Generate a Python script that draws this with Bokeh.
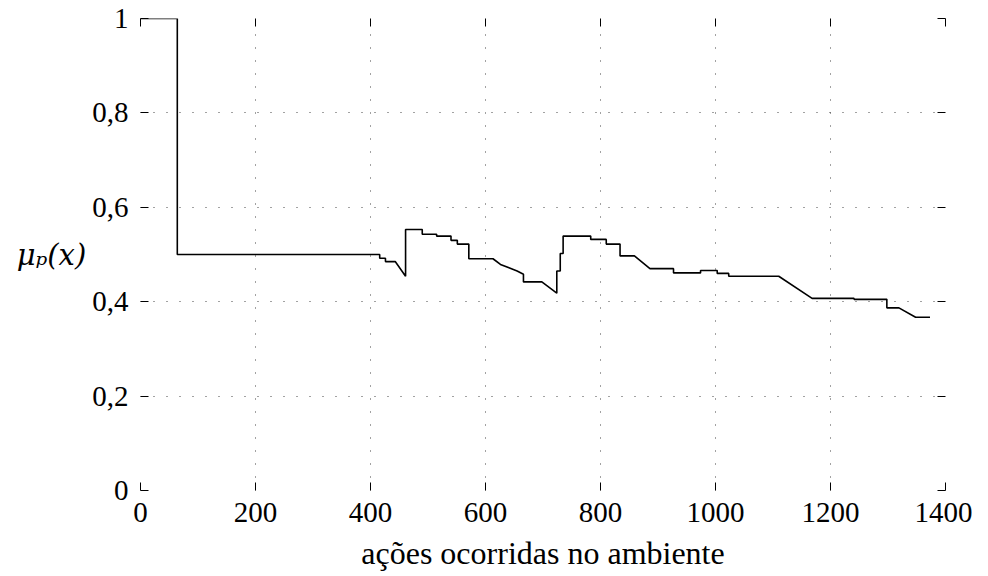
from bokeh.plotting import figure
from bokeh.models import LinearAxis, FixedTicker, Range1d, Grid
from bokeh.embed import file_html
from bokeh.resources import INLINE

# step-like trace
xs = [0, 64, 64, 416, 416, 426, 426, 443, 461, 461, 490, 490, 515, 515, 540, 540,
      551, 551, 571, 571, 613, 626, 655, 666, 666, 698, 724, 724, 730, 730, 735, 735,
      783, 783, 810, 810, 834, 834, 859, 886, 927, 927, 974, 974, 1003, 1003, 1023,
      1023, 1110, 1168, 1241, 1241, 1298, 1298, 1319, 1348, 1373]
ys = [1.0, 1.0, 0.5, 0.5, 0.492, 0.492, 0.485, 0.485, 0.454, 0.553, 0.553, 0.543,
      0.543, 0.539, 0.539, 0.530, 0.530, 0.522, 0.522, 0.491, 0.491, 0.479, 0.465,
      0.458, 0.442, 0.442, 0.418, 0.465, 0.465, 0.502, 0.502, 0.539, 0.539, 0.532,
      0.532, 0.522, 0.522, 0.497, 0.497, 0.470, 0.470, 0.461, 0.461, 0.466, 0.466,
      0.460, 0.460, 0.454, 0.454, 0.407, 0.407, 0.405, 0.405, 0.387, 0.387, 0.367,
      0.367]

x_ticks = [0, 200, 400, 600, 800, 1000, 1200, 1400]
y_ticks = [0, 0.2, 0.4, 0.6, 0.8, 1.0]
y_tick_labels = ["0", "0,2", "0,4", "0,6", "0,8", "1"]
x_label = "ações ocorridas no ambiente"
y_label = "μₚ(x)"

FONT = "Liberation Serif"
TICK_SIZE = "29px"

p = figure(width=972, height=560, output_backend="svg", toolbar_location=None,
           x_range=Range1d(0, 1400), y_range=Range1d(0, 1),
           x_axis_location=None, y_axis_location=None,
           frame_width=805, frame_height=472,
           min_border_left=140, min_border_top=18, min_border_right=27,
           min_border_bottom=60)
p.outline_line_color = None
p.background_fill_color = "white"
p.border_fill_color = "white"

def make_axis(labels):
    ax = LinearAxis()
    ax.axis_line_color = None
    ax.major_tick_in = 8
    ax.major_tick_out = 0
    ax.minor_tick_line_color = None
    ax.major_tick_line_color = "black"
    ax.major_tick_line_width = 1
    ax.major_label_text_font = FONT
    ax.major_label_text_color = "black"
    if labels:
        ax.major_label_text_font_size = TICK_SIZE
        ax.major_label_standoff = 12
    else:
        ax.major_label_text_font_size = "0px"
        ax.major_label_standoff = 0
        ax.major_label_text_color = None
    return ax

xb = make_axis(True)
xb.ticker = FixedTicker(ticks=x_ticks)
xb.axis_label = x_label
xb.axis_label_text_font = FONT
xb.axis_label_text_font_size = "32px"
xb.axis_label_text_font_style = "normal"
xb.axis_label_text_color = "black"
xb.axis_label_standoff = 10
p.add_layout(xb, "below")

yl = make_axis(True)
yl.ticker = FixedTicker(ticks=y_ticks)
yl.major_label_overrides = {t: s for t, s in zip(y_ticks, y_tick_labels)}
yl.axis_label = y_label
yl.axis_label_orientation = "horizontal"
yl.axis_label_text_font = "DejaVu Serif"
yl.axis_label_text_font_size = "29px"
yl.axis_label_text_font_style = "italic"
yl.axis_label_text_color = "black"
yl.axis_label_standoff = 3
p.add_layout(yl, "left")

xa = make_axis(False)
xa.ticker = FixedTicker(ticks=x_ticks)
p.add_layout(xa, "above")

yr = make_axis(False)
yr.ticker = FixedTicker(ticks=y_ticks)
p.add_layout(yr, "right")

p.xgrid.visible = False
p.ygrid.visible = False
gx = Grid(dimension=0, ticker=FixedTicker(ticks=x_ticks), grid_line_color="#444444",
          grid_line_width=1, grid_line_dash="1 12")
gy = Grid(dimension=1, ticker=FixedTicker(ticks=y_ticks), grid_line_color="#444444",
          grid_line_width=1, grid_line_dash="1 12")
p.add_layout(gx)
p.add_layout(gy)

p.line(xs, ys, line_color="black", line_width=1.6)

open("out.html", "w").write(file_html(p, INLINE))
